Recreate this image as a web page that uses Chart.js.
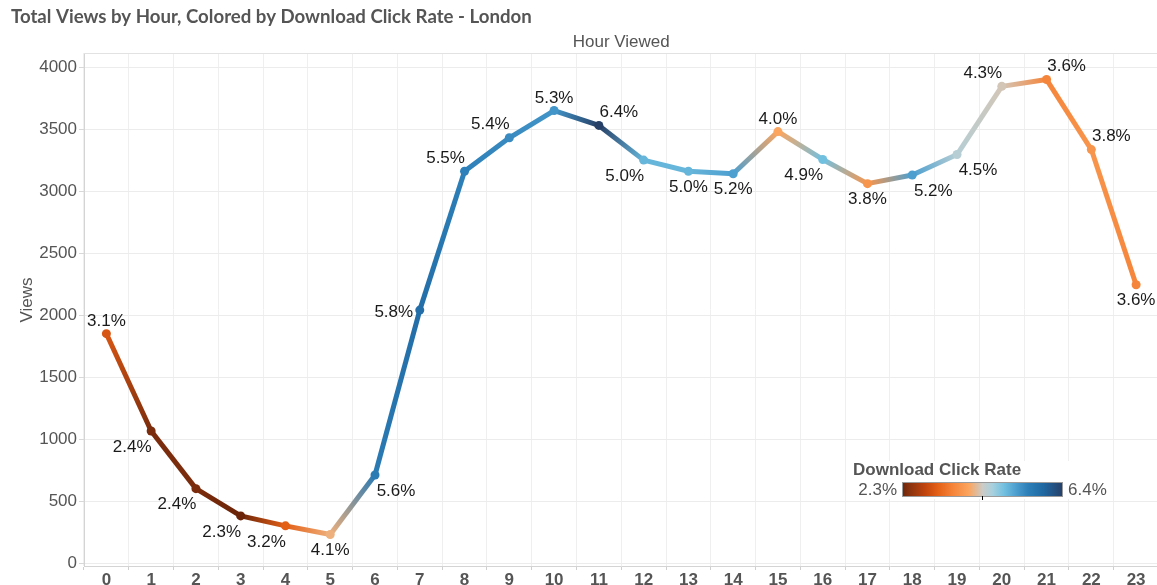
<!DOCTYPE html>
<html>
<head>
<meta charset="utf-8">
<title>Total Views by Hour - London</title>
<script src="https://cdn.jsdelivr.net/npm/chart.js@4.4.1/dist/chart.umd.min.js"></script>
<style>
  html, body { margin: 0; padding: 0; background: #fff; overflow: hidden; }
  #wrap { width: 1163px; height: 585px; }
</style>
</head>
<body>
<div id="wrap"><canvas id="viewsChart" width="1163" height="585"></canvas></div>
<script>
// data
var hours = ['0','1','2','3','4','5','6','7','8','9','10','11','12','13','14','15','16','17','18','19','20','21','22','23'];
var views = [1850, 1065, 600, 380, 300, 230, 710, 2040, 3160, 3430, 3650, 3530,
             3250, 3160, 3140, 3480, 3255, 3060, 3130, 3295, 3845, 3900, 3335, 2245];
var clickRate = [3.1, 2.4, 2.4, 2.3, 3.2, 4.1, 5.6, 5.8, 5.5, 5.4, 5.3, 6.4,
                 5.0, 5.0, 5.2, 4.0, 4.9, 3.8, 5.2, 4.5, 4.3, 3.6, 3.8, 3.6];
var yTicks = [0, 500, 1000, 1500, 2000, 2500, 3000, 3500, 4000];
var rateMin = 2.3, rateMax = 6.4;

// orange-blue diverging colour ramp (rate -> colour)
var rampStops = [
    [2.3, '#6b2408'], [2.5, '#8a330f'], [2.9, '#c2450c'], [3.2, '#e35f16'],
    [3.6, '#f5853a'], [4.0, '#fba55f'], [4.35, '#cccbc6'], [4.6, '#a8d0de'],
    [4.9, '#72c0e0'], [5.2, '#4d9fcf'], [5.5, '#2d80b9'], [5.9, '#1f68a2'],
    [6.4, '#263f66']
];

// where each % label sits around its point
var labelSpots = ['N','SW','SW','SW','SW','S','SE','W','NW','NW','N','NE',
                  'SW','S','S','N','SW','S','SE','SE','NW','NE','NE','S'];
var spotOffset = {
    N: [0, -12], S: [0, 16], NW: [-19, -13], NE: [20, -13],
    SW: [-19, 16], SE: [21, 16], W: [-26, 2]
};

function hexToRgb(h) {
    var n = parseInt(h.slice(1), 16);
    return [(n >> 16) & 255, (n >> 8) & 255, n & 255];
}

function rateColor(r) {
    if (r <= rampStops[0][0]) return rampStops[0][1];
    for (var i = 1; i < rampStops.length; i++) {
        if (r <= rampStops[i][0]) {
            var a = rampStops[i - 1], b = rampStops[i];
            var t = (r - a[0]) / (b[0] - a[0]);
            var ca = hexToRgb(a[1]), cb = hexToRgb(b[1]);
            var c = ca.map(function(v, k) { return Math.round(v + (cb[k] - v) * t); });
            return 'rgb(' + c.join(',') + ')';
        }
    }
    return rampStops[rampStops.length - 1][1];
}

var pointColors = clickRate.map(rateColor);

// % labels next to each point
var rateLabels = {
    id: 'rateLabels',
    afterDatasetsDraw: function(chart) {
        var ctx = chart.ctx;
        var meta = chart.getDatasetMeta(0);
        ctx.save();
        ctx.font = '17px "Liberation Sans", Arial, sans-serif';
        ctx.fillStyle = '#1a1a1a';
        ctx.textAlign = 'center';
        ctx.textBaseline = 'middle';
        meta.data.forEach(function(pt, i) {
            var off = spotOffset[labelSpots[i]];
            ctx.fillText(clickRate[i].toFixed(1) + '%', pt.x + off[0], pt.y + off[1]);
        });
        ctx.restore();
    }
};

// title, axis captions and the colour legend
var decorations = {
    id: 'decorations',
    afterDraw: function(chart) {
        var ctx = chart.ctx;
        var area = chart.chartArea;
        ctx.save();

        // main title, fitted to the reference width
        var title = 'Total Views by Hour, Colored by Download Click Rate - London';
        ctx.font = 'bold 16px Lato, "DejaVu Sans", sans-serif';
        var w = ctx.measureText(title).width;
        var size = 16 * 521 / w;
        ctx.font = 'bold ' + size.toFixed(2) + 'px Lato, "DejaVu Sans", sans-serif';
        ctx.fillStyle = '#555';
        ctx.textAlign = 'left';
        ctx.textBaseline = 'middle';
        ctx.fillText(title, 11, 17);

        // top axis caption
        ctx.font = '17px "Liberation Sans", Arial, sans-serif';
        ctx.textAlign = 'center';
        ctx.fillText('Hour Viewed', (area.left + area.right) / 2, 42);

        // plot top border
        ctx.strokeStyle = '#e2e2e2';
        ctx.lineWidth = 1;
        ctx.beginPath();
        ctx.moveTo(area.left, area.top + 0.5);
        ctx.lineTo(area.right, area.top + 0.5);
        ctx.stroke();

        // y axis caption
        ctx.save();
        ctx.translate(27, 300);
        ctx.rotate(-Math.PI / 2);
        ctx.fillText('Views', 0, 0);
        ctx.restore();

        // colour legend
        ctx.fillStyle = '#fff';
        ctx.fillRect(848, 461, 264, 38);
        ctx.fillStyle = '#555';
        ctx.textAlign = 'left';
        ctx.font = 'bold 17px "Liberation Sans", Arial, sans-serif';
        ctx.fillText('Download Click Rate', 853, 470);

        var bx = 902, by = 482, bw = 161, bh = 15;
        var grad = ctx.createLinearGradient(bx, 0, bx + bw, 0);
        rampStops.forEach(function(s) {
            grad.addColorStop((s[0] - rateMin) / (rateMax - rateMin), s[1]);
        });
        ctx.fillStyle = grad;
        ctx.fillRect(bx, by, bw, bh);
        ctx.strokeStyle = '#9a9a9a';
        ctx.strokeRect(bx + 0.5, by + 0.5, bw - 1, bh - 1);
        ctx.strokeStyle = '#000';
        ctx.beginPath();
        ctx.moveTo(bx + bw / 2, by + bh - 1);
        ctx.lineTo(bx + bw / 2, by + bh + 3);
        ctx.stroke();

        ctx.font = '17px "Liberation Sans", Arial, sans-serif';
        ctx.fillStyle = '#555';
        ctx.textAlign = 'right';
        ctx.fillText(rateMin.toFixed(1) + '%', 897, 490);
        ctx.textAlign = 'left';
        ctx.fillText(rateMax.toFixed(1) + '%', 1068, 490);

        ctx.restore();
    }
};

var chart = new Chart(document.getElementById('viewsChart').getContext('2d'), {
    type: 'line',
    data: {
        labels: hours,
        datasets: [{
            label: 'Views',
            data: views,
            borderWidth: 5,
            pointRadius: 4.5,
            pointHoverRadius: 4.5,
            pointBorderWidth: 0,
            pointBackgroundColor: pointColors,
            borderColor: '#888',
            tension: 0,
            segment: {
                borderColor: function(sc) {
                    var g = sc.chart.ctx.createLinearGradient(sc.p0.x, sc.p0.y, sc.p1.x, sc.p1.y);
                    g.addColorStop(0, pointColors[sc.p0DataIndex]);
                    g.addColorStop(1, pointColors[sc.p1DataIndex]);
                    return g;
                }
            }
        }]
    },
    options: {
        responsive: false,
        animation: false,
        devicePixelRatio: 1,
        layout: { padding: { top: 53, right: 1, left: 0, bottom: 0 } },
        plugins: {
            legend: { display: false },
            tooltip: { enabled: false }
        },
        scales: {
            x: {
                offset: true,
                grid: {
                    offset: true,
                    color: '#efefef',
                    tickLength: 4,
                    tickColor: '#cfcfcf'
                },
                border: { color: '#d4d4d4' },
                ticks: {
                    padding: 0,
                    color: '#555',
                    font: { family: '"Liberation Sans", Arial, sans-serif', size: 17, weight: 'bold' },
                    maxRotation: 0,
                    autoSkip: false
                },
                afterFit: function(s) { s.height = 19; }
            },
            y: {
                min: -24,
                max: 4114,
                afterBuildTicks: function(s) {
                    s.ticks = yTicks.map(function(v) { return { value: v }; });
                },
                grid: {
                    color: '#ececec',
                    tickLength: 5,
                    tickColor: '#d8d8d8'
                },
                border: { color: '#d4d4d4' },
                ticks: {
                    padding: 2,
                    color: '#555',
                    font: { family: '"Liberation Sans", Arial, sans-serif', size: 17 },
                    callback: function(v) { return String(v); }
                },
                afterFit: function(s) { s.width = 84; }
            }
        }
    },
    plugins: [rateLabels, decorations]
});
</script>
</body>
</html>
